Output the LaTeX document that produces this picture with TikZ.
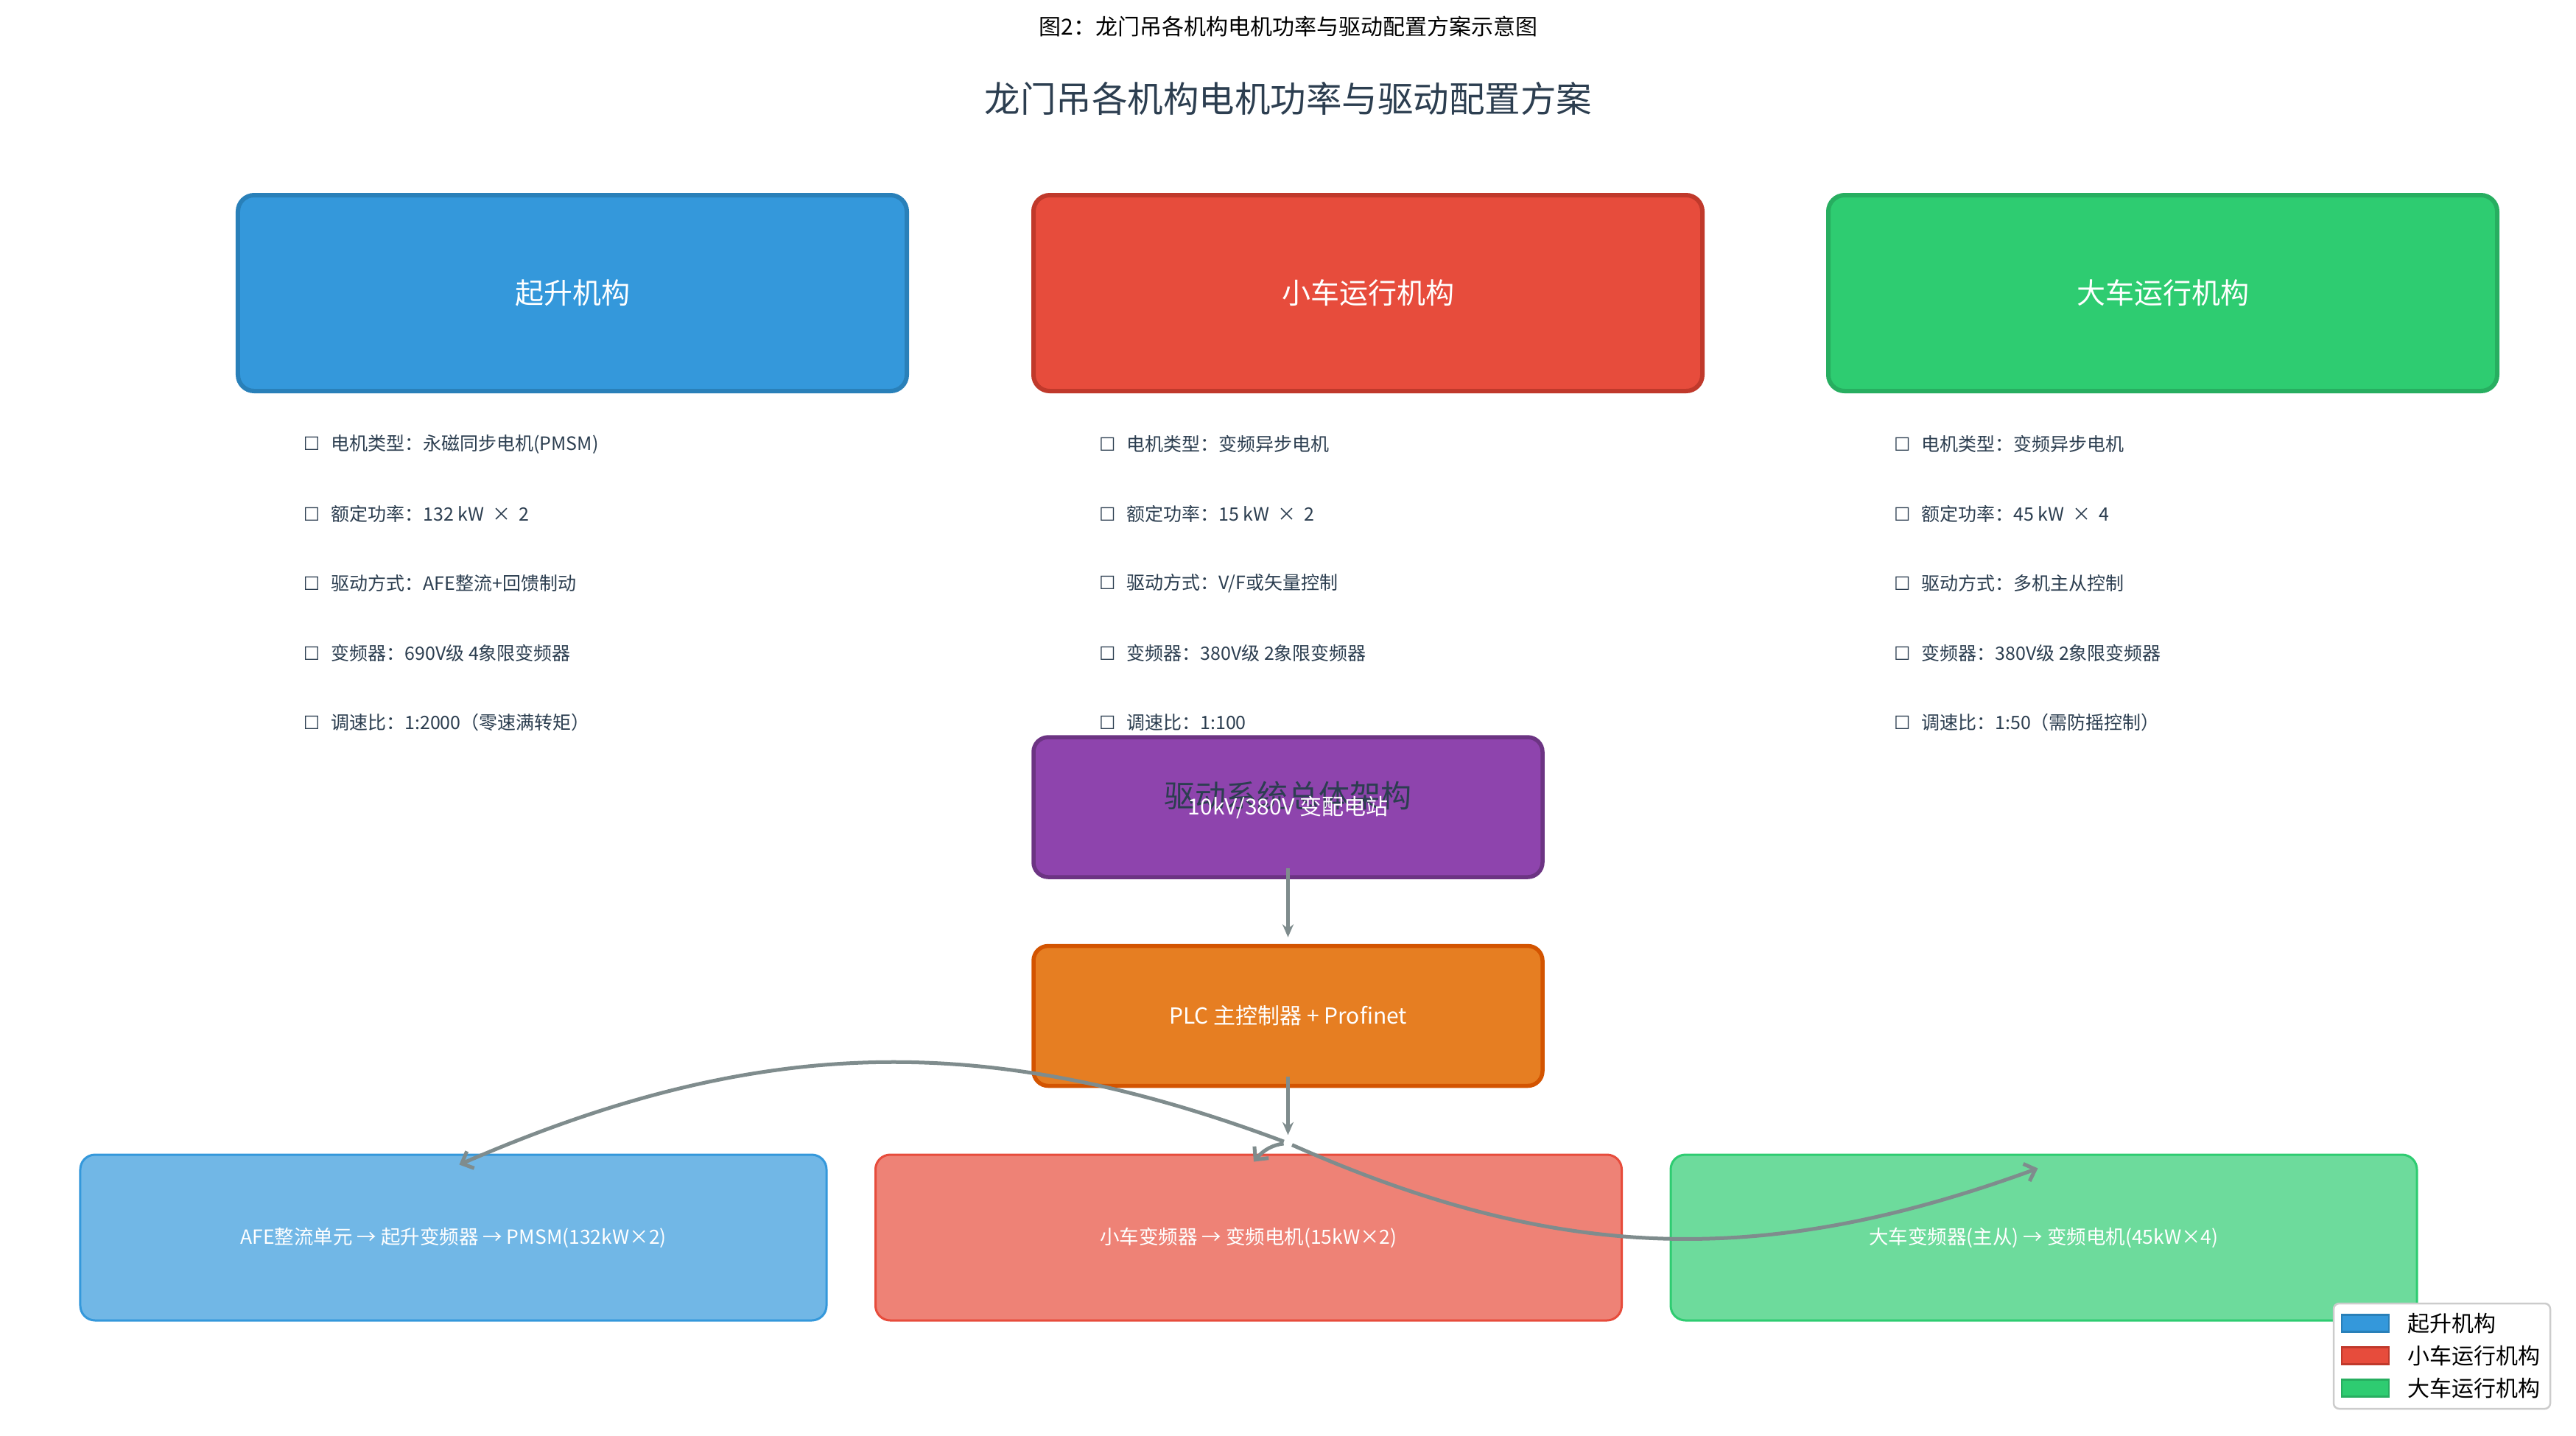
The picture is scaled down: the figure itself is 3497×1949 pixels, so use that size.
\documentclass[tikz,border=0pt]{standalone}
\usepackage{fontspec}
\setmainfont{Noto Sans CJK SC}
\newfontfamily\symbfont{DejaVu Sans}
\usetikzlibrary{positioning,arrows.meta,calc}
\definecolor{hoistc}{HTML}{3498DB}
\definecolor{hoistd}{HTML}{2980B9}
\definecolor{trolc}{HTML}{E74C3C}
\definecolor{trold}{HTML}{C0392B}
\definecolor{gantc}{HTML}{2ECC71}
\definecolor{gantd}{HTML}{27AE60}
\definecolor{subc}{HTML}{8E44AD}
\definecolor{subd}{HTML}{6C3483}
\definecolor{plcc}{HTML}{E67E22}
\definecolor{plcd}{HTML}{D35400}
\definecolor{ink}{HTML}{2C3E50}
\definecolor{wire}{HTML}{7F8C8D}
\tikzset{
  mech/.style    ={draw, rounded corners=4.4pt, line width=1.2pt, minimum width=181.6pt,
                   minimum height=53.2pt, text=white, font=\fontsize{7.8pt}{9pt}\selectfont},
  hoistbox/.style={mech, fill=hoistc, draw=hoistd},
  trolbox/.style ={mech, fill=trolc,  draw=trold},
  gantbox/.style ={mech, fill=gantc,  draw=gantd},
  item/.style    ={anchor=west, inner sep=0pt, text=ink, font=\fontsize{5pt}{6pt}\selectfont},
  core/.style    ={draw, rounded corners=4pt, line width=1.1pt, minimum width=138.2pt,
                   minimum height=38pt, text=white, font=\fontsize{6pt}{7pt}\selectfont},
  drv/.style     ={draw, rounded corners=4pt, line width=0.6pt, minimum width=202.6pt,
                   minimum height=45pt, text=white, font=\fontsize{5.3pt}{6pt}\selectfont},
  flow/.style    ={wire, line width=1pt, -{Stealth[length=3.5pt,width=3pt]}},
  link/.style    ={wire, line width=1pt, -{Straight Barb[length=2.6pt,width=5pt]}, shorten <=1.2pt},
  patch/.style   ={draw, line width=0.5pt, minimum width=12.8pt, minimum height=4.6pt, inner sep=0pt},
  keytxt/.style  ={anchor=west, inner sep=0pt, font=\fontsize{6pt}{7pt}\selectfont}
}
\newcommand{\tickbox}{{\symbfont ☐}\hspace{3pt}}

\begin{document}
\begin{tikzpicture}[x=0.2pt,y=-0.2pt]
  \useasboundingbox[fill=white] (0,0) rectangle (3497,1949);

  \node[font=\fontsize{6pt}{7pt}\selectfont](caption) at (1749,36){图2：龙门吊各机构电机功率与驱动配置方案示意图};
  \node[font=\fontsize{9.7pt}{11pt}\selectfont, text=ink](title) at (1749,134){龙门吊各机构电机功率与驱动配置方案};

  % three mechanisms
  \node[hoistbox](hoist) at (777,398){起升机构};
  \node[trolbox](trolley) at (1857,398){小车运行机构};
  \node[gantbox](gantry) at (2936,398){大车运行机构};

  \node[item](h1) at ($(hoist.south west)+(91,69)$){\tickbox 电机类型：永磁同步电机(PMSM)};
  \node[item, below=18.9pt of h1.west, anchor=west](h2){\tickbox 额定功率：132 kW \ × \ 2};
  \node[item, below=18.9pt of h2.west, anchor=west](h3){\tickbox 驱动方式：AFE整流+回馈制动};
  \node[item, below=18.9pt of h3.west, anchor=west](h4){\tickbox 变频器：690V级 4象限变频器};
  \node[item, below=18.9pt of h4.west, anchor=west](h5){\tickbox 调速比：1:2000（零速满转矩）};

  \node[item](t1) at ($(trolley.south west)+(91,69)$){\tickbox 电机类型：变频异步电机};
  \node[item, below=18.9pt of t1.west, anchor=west](t2){\tickbox 额定功率：15 kW \ × \ 2};
  \node[item, below=18.9pt of t2.west, anchor=west](t3){\tickbox 驱动方式：V/F或矢量控制};
  \node[item, below=18.9pt of t3.west, anchor=west](t4){\tickbox 变频器：380V级 2象限变频器};
  \node[item, below=18.9pt of t4.west, anchor=west](t5){\tickbox 调速比：1:100};

  \node[item](g1) at ($(gantry.south west)+(91,69)$){\tickbox 电机类型：变频异步电机};
  \node[item, below=18.9pt of g1.west, anchor=west](g2){\tickbox 额定功率：45 kW \ × \ 4};
  \node[item, below=18.9pt of g2.west, anchor=west](g3){\tickbox 驱动方式：多机主从控制};
  \node[item, below=18.9pt of g3.west, anchor=west](g4){\tickbox 变频器：380V级 2象限变频器};
  \node[item, below=18.9pt of g4.west, anchor=west](g5){\tickbox 调速比：1:50（需防摇控制）};

  % drive architecture
  \node[core, fill=subc, draw=subd](sub) at (1748.5,1096){};
  \node[font=\fontsize{8.4pt}{10pt}\selectfont, text=ink](arch) at (1748,1080){驱动系统总体架构};
  \node[text=white, font=\fontsize{6pt}{7pt}\selectfont](subtxt) at (sub){10kV/380V 变配电站};
  \node[core, fill=plcc, draw=plcd](plc) at (1748.5,1379.5){PLC 主控制器 + Profinet};
  \coordinate (hub) at ($(plc.south)+(0,75)$);

  \node[drv, fill=hoistc!70!white, draw=hoistc](afe) at (615.5,1680.5){AFE整流单元 → 起升变频器 → PMSM(132kW×2)};
  \node[drv, fill=trolc!70!white, draw=trolc](trolvfd) at (1695,1680.5){小车变频器 → 变频电机(15kW×2)};
  \node[drv, fill=gantc!70!white, draw=gantc](gantvfd) at (2774.5,1680.5){大车变频器(主从) → 变频电机(45kW×4)};

  \draw[flow]($(sub.south)+(0,-15)$) -- ($(plc.north)+(0,-9)$);
  \draw[flow]($(plc.south)+(0,-15)$) -- ($(hub)+(0,-11)$);
  \draw[link](hub) to[bend right=22] ($(afe.north)+(8,15)$);
  \draw[link](hub) to[bend right=22] ($(trolvfd.north)+(7,11)$);
  \draw[link](hub) to[bend right=22] ($(gantvfd.north)+(-8,20)$);

  % legend
  \node[draw=black!20, fill=white, rounded corners=1.5pt, line width=0.5pt,
        minimum width=58.8pt, minimum height=28.6pt](legend) at (3315,1841.5){};
  \node[patch, fill=hoistc, draw=hoistd](k1) at (3211,1797){};
  \node[patch, fill=trolc, draw=trold](k2) at (3211,1841){};
  \node[patch, fill=gantc, draw=gantd](k3) at (3211,1885){};
  \node[keytxt] at (3267,1797){起升机构};
  \node[keytxt] at (3267,1841){小车运行机构};
  \node[keytxt] at (3267,1885){大车运行机构};
\end{tikzpicture}
\end{document}
